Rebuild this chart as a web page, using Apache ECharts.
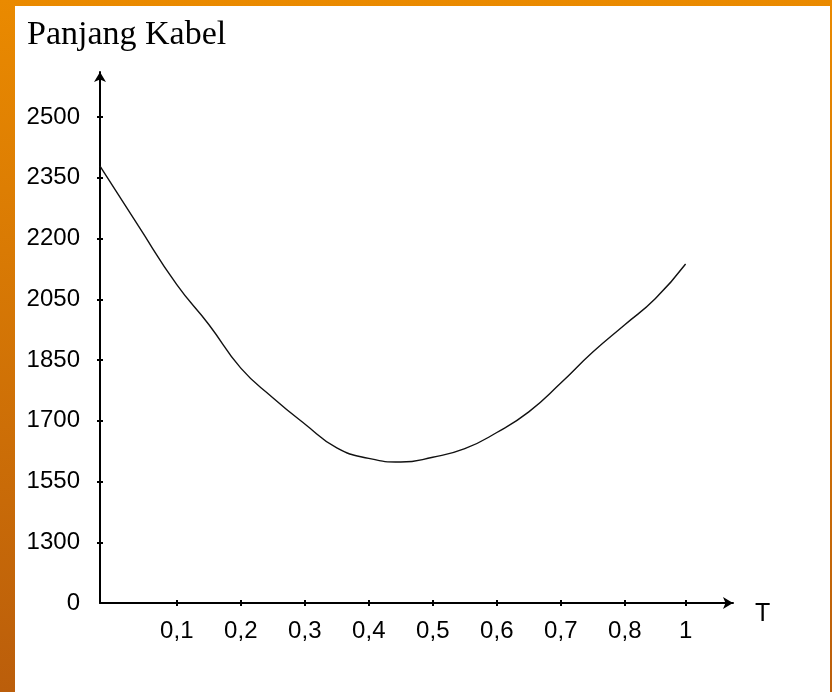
<!DOCTYPE html>
<html><head><meta charset="utf-8">
<script src="https://cdn.jsdelivr.net/npm/echarts@6/dist/echarts.min.js"></script>
<style>html,body{margin:0;padding:0;background:#fff}#c{width:832px;height:692px}</style>
</head><body><div id="c"></div>
<script>
// ---- data ----
const yTickLabels = [0, 1300, 1550, 1700, 1850, 2050, 2200, 2350, 2500];
const xTickLabels = [0.1, 0.2, 0.3, 0.4, 0.5, 0.6, 0.7, 0.8, 1];
const tValues = [0, 0.05, 0.1, 0.15, 0.2, 0.25, 0.3, 0.35, 0.4, 0.45, 0.5, 0.55, 0.6, 0.65, 0.7, 0.75, 0.8, 0.9, 1];
const cableLength = [2379, 2231, 2086, 1967, 1830, 1757, 1692, 1633, 1607, 1598, 1610, 1631, 1671, 1722, 1793, 1876, 1966, 2051, 2137];

// ---- scales (hand-drawn, non-uniform axes of the original) ----
// y: each tick label occupies one equal step on the axis
const ySteps = yTickLabels.map((v, i) => i);
// x: origin, then the tick labels; steps as spaced on the original axis
const xAnchorVals = [0].concat(xTickLabels);
const xSteps = [0, 1.2, 2.2, 3.2, 4.2, 5.2, 6.2, 7.2, 8.2, 9.15];

function piecewise(v, vals, steps) {
  for (let i = 0; i < vals.length - 1; i++) {
    if (v <= vals[i + 1] || i === vals.length - 2) {
      const f = (v - vals[i]) / (vals[i + 1] - vals[i]);
      return steps[i] + f * (steps[i + 1] - steps[i]);
    }
  }
  return steps[0];
}
const xScale = v => piecewise(v, xAnchorVals, xSteps);
const yScale = v => piecewise(v, yTickLabels, ySteps);
function labelFor(step, steps, labels) {
  for (let i = 0; i < steps.length; i++) if (Math.abs(steps[i] - step) < 1e-6) return labels[i];
  return '';
}

const xTickSteps = xTickLabels.map(xScale);
const yTickSteps = yTickLabels.map(yScale);

// layout
const gridLeft = 100, gridTop = 72, gridBottom = 89, gridRight = 99;
const W = 832, H = 692;
const xUnit = 64, yUnit = 60.75;
const xMax = (W - gridLeft - gridRight) / xUnit;
const yMax = (H - gridTop - gridBottom) / yUnit;

const numFont = "'Liberation Sans',Arial,sans-serif";
const axisColor = '#000';

const chart = echarts.init(document.getElementById('c'), null, {renderer: 'canvas'});
chart.setOption({
  animation: false,
  backgroundColor: new echarts.graphic.LinearGradient(0, 0, 0, 1, [
    {offset: 0, color: '#ea8a00'},
    {offset: 1, color: '#bb5e0b'}
  ]),
  graphic: [{
    type: 'rect', z: -1, silent: true,
    shape: {x: 15, y: 6, width: 815, height: 686},
    style: {fill: '#ffffff'}
  }],
  title: {
    text: 'Panjang Kabel', left: 27, top: 18, padding: 0,
    textStyle: {fontFamily: "'Liberation Serif','Times New Roman',serif", fontSize: 34, fontWeight: 'normal', color: '#000'}
  },
  grid: {left: gridLeft, top: gridTop, right: gridRight, bottom: gridBottom, containLabel: false},
  xAxis: [{
    type: 'value', min: 0, max: xMax,
    axisLine: {show: true, onZero: false, lineStyle: {color: axisColor, width: 2}, symbol: ['none', 'arrow'], symbolSize: [9, 10]},
    axisTick: {show: true, customValues: xTickSteps, length: 3, lineStyle: {color: axisColor, width: 2}},
    axisLabel: {
      customValues: xTickSteps, margin: 16, color: '#000', fontFamily: numFont, fontSize: 24,
      formatter: v => String(labelFor(v, xTickSteps, xTickLabels)).replace('.', ',')
    },
    splitLine: {show: false},
    name: 'T', nameLocation: 'end', nameGap: 22,
    nameTextStyle: {color: '#000', fontFamily: numFont, fontSize: 25, verticalAlign: 'top', lineHeight: 22}
  }, {
    type: 'value', min: 0, max: xMax, position: 'bottom',
    axisLine: {show: false},
    axisTick: {show: true, inside: true, customValues: xTickSteps, length: 3, lineStyle: {color: axisColor, width: 2}},
    axisLabel: {show: false}, splitLine: {show: false}
  }],
  yAxis: [{
    type: 'value', min: 0, max: yMax,
    axisLine: {show: true, onZero: false, lineStyle: {color: axisColor, width: 2}, symbol: ['none', 'arrow'], symbolSize: [9, 10]},
    axisTick: {show: true, customValues: yTickSteps.slice(1), length: 3, lineStyle: {color: axisColor, width: 2}},
    axisLabel: {
      customValues: yTickSteps, margin: 20, color: '#000', fontFamily: numFont, fontSize: 24,
      formatter: v => String(labelFor(v, yTickSteps, yTickLabels))
    },
    splitLine: {show: false}
  }, {
    type: 'value', min: 0, max: yMax, position: 'left',
    axisLine: {show: false},
    axisTick: {show: true, inside: true, customValues: yTickSteps.slice(1), length: 3, lineStyle: {color: axisColor, width: 2}},
    axisLabel: {show: false}, splitLine: {show: false}
  }],
  series: [{
    type: 'line', xAxisIndex: 0, yAxisIndex: 0,
    data: tValues.map((t, i) => [xScale(t), yScale(cableLength[i])]),
    showSymbol: false, smooth: 0.5,
    lineStyle: {color: '#111', width: 1.4}
  }]
});
</script>
</body></html>
